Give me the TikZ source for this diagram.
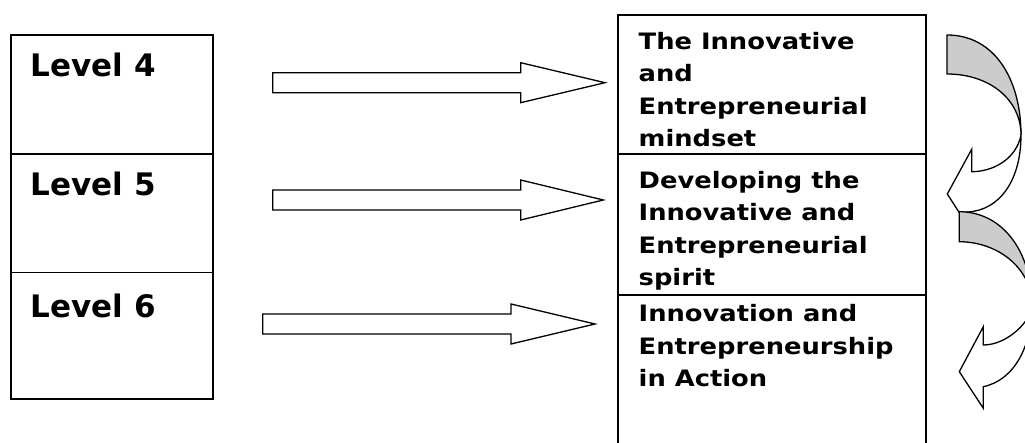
\documentclass[tikz,border=0pt]{standalone}
\usepackage{fontspec}
\setmainfont{DejaVu Sans}
\newfontfamily\rfont[FakeStretch=1.14]{DejaVu Sans}
\definecolor{bandgray}{gray}{0.8}
\begin{document}
\begin{tikzpicture}[x=1pt,y=-1pt,line join=miter,
  box/.style={draw,line width=1.5pt,inner sep=0pt,outer sep=0pt,anchor=north west,minimum width=#1},
  box/.default=202pt,
  ltext/.style={inner sep=0pt,anchor=base west,font=\fontsize{31}{37}\selectfont\bfseries},
  rtext/.style={inner sep=0pt,anchor=base west,font=\rfont\fontsize{22.6}{32.5}\selectfont\bfseries},
  blockarrow/.style={draw,line width=1.3pt,fill=white},
  backband/.style={draw,line width=1.3pt,fill=bandgray},
  frontband/.style={draw,line width=1.3pt,fill=white}]
\useasboundingbox (0,0) rectangle (1025,443);

% left boxes
\node[box, minimum height=119pt] (b4) at (11,35) {};
\node[box, minimum height=118.5pt] (b5) at (11,154) {};
\node[box, minimum height=126.5pt] (b6) at (11,272.5) {};
\node[ltext] (t4) at (30.5,77) {Level 4};
\node[ltext] (t5) at (30.5,196) {Level 5};
\node[ltext] (t6) at (30.5,317.5) {Level 6};

% right boxes
\node[box=308pt, minimum height=139pt] (r1) at (618,15) {};
\node[box=308pt, minimum height=141pt] (r2) at (618,154) {};
\node[box=308pt, minimum height=160pt] (r3) at (618,295) {};
\node[rtext] (s1) at (638.5,49.5) {\begin{tabular}[t]{@{}l@{}}The Innovative\\and\\Entrepreneurial\\mindset\end{tabular}};
\node[rtext] (s2) at (638.5,188.3) {\begin{tabular}[t]{@{}l@{}}Developing the\\Innovative and\\Entrepreneurial\\spirit\end{tabular}};
\node[rtext] (s3) at (638.5,321.7) {\begin{tabular}[t]{@{}l@{}}Innovation and\\Entrepreneurship\\in Action\end{tabular}};

% block arrows
\draw[blockarrow] (272.7,72.7) -- (520.7,72.7) -- (520.7,62.7) -- (605,82.7) -- (520.7,102.7) -- (520.7,92.7) -- (272.7,92.7) -- cycle;
\draw[blockarrow] (272.7,190) -- (520.7,190) -- (520.7,180) -- (603.3,200) -- (520.7,220) -- (520.7,210) -- (272.7,210) -- cycle;
\draw[blockarrow] (262.7,314) -- (511,314) -- (511,304) -- (595,324) -- (511,344) -- (511,334) -- (262.7,334) -- cycle;

% curved arrow A
\draw[backband] (947,35) .. controls (995,35) and (1021,80) .. (1021,135)
  .. controls (1021,100) and (990,74) .. (947,74) -- cycle;
\draw[frontband] (1021,135) .. controls (1016,160) and (992,171.7) .. (971.7,171.7)
  -- (971.7,149.3) -- (947.3,194) -- (959.3,212.7) -- (968,212)
  .. controls (1000,210) and (1021,180) .. (1021,135) -- cycle;

% curved arrow B
\draw[backband] (959.3,211.7) .. controls (1005,212) and (1032,255) .. (1032,305)
  .. controls (1032,270) and (1000,242) .. (959.3,241.7) -- cycle;
\draw[frontband] (1032,305) .. controls (1032,320) and (1008,345) .. (983.3,345)
  -- (983.3,326.7) -- (959.3,371.7) -- (983.3,408.3) -- (983.3,386.7)
  .. controls (1015,380) and (1032,345) .. (1032,305) -- cycle;
\end{tikzpicture}
\end{document}
